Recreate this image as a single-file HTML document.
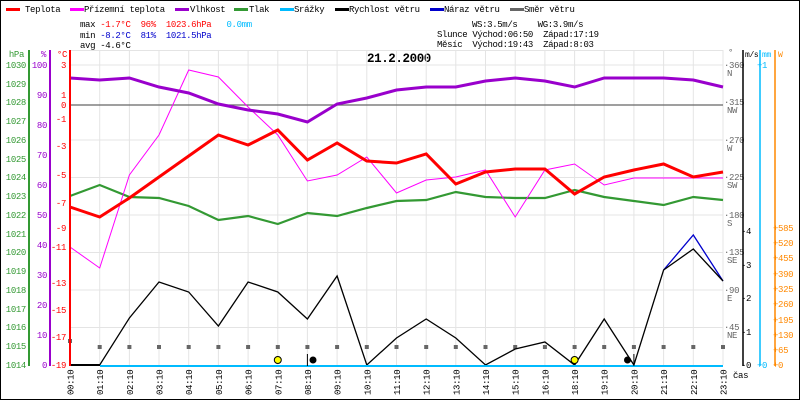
<!DOCTYPE html>
<html><head><meta charset="utf-8"><style>
body{margin:0;background:#fff}
svg{display:block}
text{font-family:"Liberation Mono",monospace;font-size:9px;letter-spacing:-0.35px}
</style></head><body>
<svg width="800" height="400" xmlns="http://www.w3.org/2000/svg">
<rect x="0.5" y="0.5" width="799" height="399" fill="#fff" stroke="#000"/>
<!-- legend -->
<g>
<rect x="6" y="8" width="14" height="3" fill="#f00"/><text x="25" y="12">Teplota</text>
<rect x="70" y="8" width="14" height="3" fill="#f0f"/><text x="84" y="12">Přízemní teplota</text>
<rect x="175" y="8" width="14" height="3" fill="#90c"/><text x="190" y="12">Vlhkost</text>
<rect x="234" y="8" width="14" height="3" fill="#393"/><text x="249" y="12">Tlak</text>
<rect x="280" y="8" width="14" height="3" fill="#0bf"/><text x="294" y="12">Srážky</text>
<rect x="335" y="8" width="14" height="3" fill="#000"/><text x="349" y="12">Rychlost větru</text>
<rect x="430" y="8" width="14" height="3" fill="#00c"/><text x="444" y="12">Náraz větru</text>
<rect x="510" y="8" width="14" height="3" fill="#666"/><text x="524" y="12">Směr větru</text>
</g>
<text x="80" y="27" xml:space="preserve">max <tspan fill="#f00">-1.7°C  96%  1023.6hPa</tspan>   <tspan fill="#0bf">0.0mm</tspan></text>
<text x="80" y="38" xml:space="preserve">min <tspan fill="#00c">-8.2°C  81%  1021.5hPa</tspan></text>
<text x="80" y="48" xml:space="preserve">avg -4.6°C</text>
<text x="472" y="27" xml:space="preserve">WS:3.5m/s    WG:3.9m/s</text>
<text x="437" y="37" xml:space="preserve">Slunce Východ:06:50  Západ:17:19</text>
<text x="437" y="47" xml:space="preserve">Měsíc  Východ:19:43  Západ:8:03</text>
<text x="367" y="62" style="font-size:12.5px;font-weight:bold;letter-spacing:-0.4px">21.2.2000</text>
<!-- grid -->
<g stroke="#e4e4e4" stroke-width="1">
<line x1="70" y1="50.5" x2="723" y2="50.5"/>
<line x1="70" y1="65" x2="723" y2="65"/><line x1="70" y1="140" x2="723" y2="140"/><line x1="70" y1="177.5" x2="723" y2="177.5"/><line x1="70" y1="215" x2="723" y2="215"/><line x1="70" y1="252.5" x2="723" y2="252.5"/><line x1="70" y1="290" x2="723" y2="290"/><line x1="70" y1="327.5" x2="723" y2="327.5"/>
<line x1="99.7" y1="50" x2="99.7" y2="365"/><line x1="129.4" y1="50" x2="129.4" y2="365"/><line x1="159" y1="50" x2="159" y2="365"/><line x1="188.7" y1="50" x2="188.7" y2="365"/><line x1="218.4" y1="50" x2="218.4" y2="365"/><line x1="248.1" y1="50" x2="248.1" y2="365"/><line x1="277.8" y1="50" x2="277.8" y2="365"/><line x1="307.4" y1="50" x2="307.4" y2="365"/><line x1="337.1" y1="50" x2="337.1" y2="365"/><line x1="366.8" y1="50" x2="366.8" y2="365"/><line x1="396.5" y1="50" x2="396.5" y2="365"/><line x1="426.2" y1="50" x2="426.2" y2="365"/><line x1="455.8" y1="50" x2="455.8" y2="365"/><line x1="485.5" y1="50" x2="485.5" y2="365"/><line x1="515.2" y1="50" x2="515.2" y2="365"/><line x1="544.9" y1="50" x2="544.9" y2="365"/><line x1="574.6" y1="50" x2="574.6" y2="365"/><line x1="604.2" y1="50" x2="604.2" y2="365"/><line x1="633.9" y1="50" x2="633.9" y2="365"/><line x1="663.6" y1="50" x2="663.6" y2="365"/><line x1="693.3" y1="50" x2="693.3" y2="365"/><line x1="723" y1="50" x2="723" y2="365"/>
</g>
<line x1="70" y1="105" x2="723" y2="105" stroke="#666" stroke-width="1.2"/>
<!-- direction markers -->
<g fill="#666">
<rect x="68" y="339" width="4" height="4"/><rect x="97.7" y="345" width="4" height="4"/><rect x="127.4" y="345" width="4" height="4"/><rect x="157" y="345" width="4" height="4"/><rect x="186.7" y="345" width="4" height="4"/><rect x="216.4" y="345" width="4" height="4"/><rect x="246.1" y="345" width="4" height="4"/><rect x="275.8" y="345" width="4" height="4"/><rect x="305.4" y="345" width="4" height="4"/><rect x="335.1" y="345" width="4" height="4"/><rect x="364.8" y="345" width="4" height="4"/><rect x="394.5" y="345" width="4" height="4"/><rect x="424.2" y="345" width="4" height="4"/><rect x="453.8" y="345" width="4" height="4"/><rect x="483.5" y="345" width="4" height="4"/><rect x="513.2" y="345" width="4" height="4"/><rect x="542.9" y="345" width="4" height="4"/><rect x="572.6" y="345" width="4" height="4"/><rect x="602.2" y="345" width="4" height="4"/><rect x="631.9" y="345" width="4" height="4"/><rect x="661.6" y="345" width="4" height="4"/><rect x="691.3" y="345" width="4" height="4"/><rect x="721" y="345" width="4" height="4"/>
</g>
<!-- series -->
<polyline fill="none" stroke="#393" stroke-width="2.2" points="70,196 99.7,185 129.4,197 159,198 188.7,206 218.4,220 248.1,216 277.8,224 307.4,213 337.1,216 366.8,208 396.5,201 426.2,200 455.8,192 485.5,197 515.2,198 544.9,198 574.6,190 604.2,197 633.9,201 663.6,205 693.3,197 723,200"/>
<polyline fill="none" stroke="#f0f" stroke-width="1" points="70,247 99.7,268 129.4,175 159,135 188.7,70 218.4,77 248.1,107 277.8,135 307.4,181 337.1,175 366.8,157 396.5,193 426.2,180 455.8,177 485.5,170 515.2,217 544.9,170 574.6,164 604.2,185 633.9,178 663.6,178 693.3,178 723,178"/>
<polyline fill="none" stroke="#f00" stroke-width="3" points="70,207 99.7,217 129.4,198 159,177 188.7,156 218.4,135 248.1,145 277.8,130 307.4,160 337.1,143 366.8,161 396.5,163 426.2,154 455.8,184 485.5,172 515.2,169 544.9,169 574.6,194 604.2,177 633.9,170 663.6,164 693.3,177 723,172"/>
<polyline fill="none" stroke="#90c" stroke-width="3" points="70,78 99.7,80 129.4,78 159,87 188.7,93 218.4,104 248.1,110 277.8,114 307.4,122 337.1,104 366.8,98 396.5,90 426.2,87 455.8,87 485.5,81 515.2,78 544.9,81 574.6,87 604.2,78 633.9,78 663.6,78 693.3,80 723,87"/>
<polyline fill="none" stroke="#00c" stroke-width="1.3" points="663.6,270 693.3,235 723,281"/>
<polyline fill="none" stroke="#000" stroke-width="1.3" points="70,365 99.7,365 129.4,318 159,282 188.7,292 218.4,326 248.1,282 277.8,292 307.4,319 337.1,276 366.8,365 396.5,338 426.2,319 455.8,338 485.5,365 515.2,349 544.9,342 574.6,365 604.2,319 633.9,365 663.6,270 693.3,249 723,281"/>
<line x1="70" y1="365" x2="100" y2="365" stroke="#000" stroke-width="2"/>
<line x1="100" y1="366" x2="723" y2="366" stroke="#0bf" stroke-width="2"/>
<!-- sun/moon -->
<circle cx="277.8" cy="360" r="3.5" fill="#ff0" stroke="#000" stroke-width="1"/>
<circle cx="313" cy="360" r="3.5" fill="#000"/>
<line x1="307.4" y1="354" x2="307.4" y2="366" stroke="#000"/>
<circle cx="574.6" cy="360" r="3.5" fill="#ff0" stroke="#000" stroke-width="1"/>
<circle cx="627.5" cy="360" r="3.5" fill="#000"/>
<line x1="633.9" y1="354" x2="633.9" y2="366" stroke="#000"/>
<!-- left axes -->
<line x1="29" y1="50" x2="29" y2="366" stroke="#393" stroke-width="2"/>
<line x1="50" y1="50" x2="50" y2="366" stroke="#90c" stroke-width="2"/>
<line x1="70" y1="50" x2="70" y2="366" stroke="#f00" stroke-width="2"/>
<g fill="#393" text-anchor="end">
<text x="24" y="57">hPa</text>
<text x="26" y="68">1030</text><text x="26" y="87">1029</text><text x="26" y="105">1028</text><text x="26" y="124">1027</text><text x="26" y="143">1026</text><text x="26" y="162">1025</text><text x="26" y="180">1024</text><text x="26" y="199">1023</text><text x="26" y="218">1022</text><text x="26" y="237">1021</text><text x="26" y="255">1020</text><text x="26" y="274">1019</text><text x="26" y="293">1018</text><text x="26" y="312">1017</text><text x="26" y="330">1016</text><text x="26" y="349">1015</text><text x="26" y="368">1014</text>
</g>
<g fill="#90c" text-anchor="end">
<text x="46" y="57">%</text>
<text x="47" y="68">100</text><text x="47" y="98">90</text><text x="47" y="128">80</text><text x="47" y="158">70</text><text x="47" y="188">60</text><text x="47" y="218">50</text><text x="47" y="248">40</text><text x="47" y="278">30</text><text x="47" y="308">20</text><text x="47" y="338">10</text><text x="47" y="368">0</text>
</g>
<g fill="#f00" text-anchor="end">
<text x="67" y="57">°C</text>
<text x="66" y="68">3</text><text x="66" y="98">1</text><text x="66" y="108">0</text><text x="66" y="122">-1</text><text x="66" y="149">-3</text><text x="66" y="178">-5</text><text x="66" y="206">-7</text><text x="66" y="231">-9</text><text x="66" y="250">-11</text><text x="66" y="286">-13</text><text x="66" y="313">-15</text><text x="66" y="340">-17</text><text x="66" y="368">-19</text>
</g>
<!-- right axes -->
<g fill="#666" style="font-size:8.5px">
<text x="728" y="55">°</text>
<text x="724" y="68">·360</text><text x="727" y="76">N</text>
<text x="724" y="105">·315</text><text x="727" y="113">NW</text>
<text x="724" y="143">·270</text><text x="727" y="151">W</text>
<text x="724" y="180">·225</text><text x="727" y="188">SW</text>
<text x="724" y="218">·180</text><text x="727" y="226">S</text>
<text x="724" y="255">·135</text><text x="727" y="263">SE</text>
<text x="724" y="293">·90</text><text x="727" y="301">E</text>
<text x="724" y="330">·45</text><text x="727" y="338">NE</text>
</g>
<line x1="743" y1="50" x2="743" y2="366" stroke="#000" stroke-width="1.5"/>
<line x1="760" y1="50" x2="760" y2="366" stroke="#0bf" stroke-width="1.5"/>
<line x1="775" y1="50" x2="775" y2="366" stroke="#f80" stroke-width="1.5"/>
<text x="745" y="57" style="font-size:8px">m/s</text>
<text x="762" y="57" style="font-size:8px" fill="#0bf">mm</text>
<text x="778" y="57" style="font-size:8px" fill="#f80">W</text>
<g style="font-size:8.5px">
<text x="741" y="368">-0</text><text x="741" y="335">-1</text><text x="741" y="301">-2</text><text x="741" y="268">-3</text><text x="741" y="234">-4</text>
</g>
<g style="font-size:8.5px" fill="#0bf"><text x="757" y="68">+1</text><text x="757" y="368">+0</text></g>
<g style="font-size:8.5px" fill="#f80">
<text x="773" y="368">+0</text><text x="773" y="353">+65</text><text x="773" y="338">+130</text><text x="773" y="323">+195</text><text x="773" y="307">+260</text><text x="773" y="292">+325</text><text x="773" y="277">+390</text><text x="773" y="261">+455</text><text x="773" y="246">+520</text><text x="773" y="231">+585</text>
</g>
<text x="733" y="378">čas</text>
<!-- time labels -->
<g>
<text transform="translate(73.5,395) rotate(-90)">00:10</text>
<text transform="translate(103.2,395) rotate(-90)">01:10</text>
<text transform="translate(132.9,395) rotate(-90)">02:10</text>
<text transform="translate(162.5,395) rotate(-90)">03:10</text>
<text transform="translate(192.2,395) rotate(-90)">04:10</text>
<text transform="translate(221.9,395) rotate(-90)">05:10</text>
<text transform="translate(251.6,395) rotate(-90)">06:10</text>
<text transform="translate(281.3,395) rotate(-90)">07:10</text>
<text transform="translate(310.9,395) rotate(-90)">08:10</text>
<text transform="translate(340.6,395) rotate(-90)">09:10</text>
<text transform="translate(370.3,395) rotate(-90)">10:10</text>
<text transform="translate(400,395) rotate(-90)">11:10</text>
<text transform="translate(429.7,395) rotate(-90)">12:10</text>
<text transform="translate(459.3,395) rotate(-90)">13:10</text>
<text transform="translate(489,395) rotate(-90)">14:10</text>
<text transform="translate(518.7,395) rotate(-90)">15:10</text>
<text transform="translate(548.4,395) rotate(-90)">16:10</text>
<text transform="translate(578.1,395) rotate(-90)">18:10</text>
<text transform="translate(607.7,395) rotate(-90)">19:10</text>
<text transform="translate(637.4,395) rotate(-90)">20:10</text>
<text transform="translate(667.1,395) rotate(-90)">21:10</text>
<text transform="translate(696.8,395) rotate(-90)">22:10</text>
<text transform="translate(726.5,395) rotate(-90)">23:10</text>
</g>
</svg>
</body></html>
